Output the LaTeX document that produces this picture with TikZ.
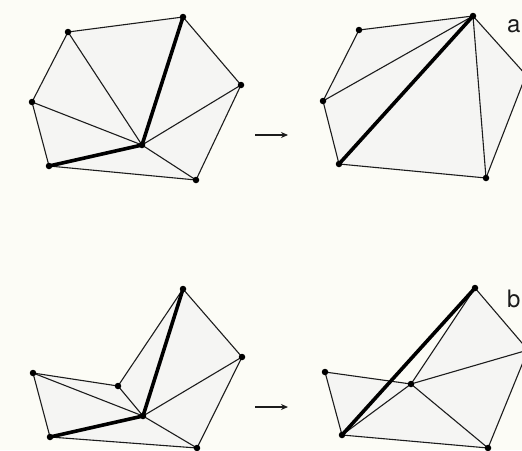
\documentclass[tikz,border=0pt]{standalone}
\usepackage{fontspec}
\setmainfont{TeX Gyre Heros}
\usetikzlibrary{arrows.meta}
\definecolor{bgc}{RGB}{252,252,246}
\definecolor{fillc}{RGB}{245,245,243}
\definecolor{inkc}{RGB}{28,28,28}
\begin{document}
\begin{tikzpicture}[x=1pt,y=-1pt,
  edge/.style={draw=inkc,line width=1.1pt},
  thickedge/.style={draw=black,line width=3.6pt,line cap=round},
  dot/.style={circle,fill=black,inner sep=0pt,minimum size=6.5pt},
  poly/.style={fill=fillc},
  flip/.style={draw=inkc,line width=1.3pt,-{Stealth[length=7pt,width=6pt]}},
  lab/.style={inner sep=0pt,anchor=base west,font=\fontsize{24}{24}\selectfont,text=inkc}]
\useasboundingbox (0,0) rectangle (522,450);
\clip (0,0) rectangle (522,450);
\fill[bgc] (0,0) rectangle (522,450);
% ---------- top left ----------
\coordinate (A) at (68,32);
\coordinate (B) at (183,17);
\coordinate (C) at (241,85);
\coordinate (D) at (32,102);
\coordinate (E) at (142,145);
\coordinate (F) at (49,166);
\coordinate (G) at (196,180);
\fill[poly] (A)--(B)--(C)--(G)--(F)--(D)--cycle;
\draw[edge] (A)--(B)--(C)--(G)--(F)--(D)--cycle;
\draw[edge] (A)--(E) (C)--(E) (D)--(E) (G)--(E);
\draw[thickedge] (B)--(E)--(F);
\foreach \p in {A,B,C,D,E,F,G} \node[dot] (dot1\p) at (\p) {};
% ---------- top right ----------
\coordinate (A2) at (359,30);
\coordinate (B2) at (473,16);
\coordinate (C2) at (526,75);
\coordinate (D2) at (323,101);
\coordinate (F2) at (339,164);
\coordinate (G2) at (486,178);
\fill[poly] (A2)--(B2)--(C2)--(G2)--(F2)--(D2)--cycle;
\draw[edge] (A2)--(B2)--(C2)--(G2)--(F2)--(D2)--cycle;
\draw[edge] (D2)--(B2) (G2)--(B2);
\draw[thickedge] (F2)--(B2);
\foreach \p in {A2,B2,C2,D2,F2,G2} \node[dot] (dot2\p) at (\p) {};
\node[lab] (la) at (507,32) {a};
% top arrow
\coordinate (ta1) at (255,135);
\coordinate (ta2) at (288,135);
\draw[flip] (ta1)--(ta2);
% ---------- bottom left ----------
\coordinate (P1) at (183,289);
\coordinate (P2) at (242,357);
\coordinate (P3) at (33,373);
\coordinate (P4) at (118,386);
\coordinate (PE) at (143,416);
\coordinate (PF) at (50,437);
\coordinate (PG) at (197,448);
\fill[poly] (P1)--(P2)--(PG)--(PF)--(P3)--(P4)--cycle;
\draw[edge] (P1)--(P2)--(PG)--(PF)--(P3)--(P4)--cycle;
\draw[edge] (P2)--(PE) (PG)--(PE) (P3)--(PE) (P4)--(PE);
\draw[thickedge] (P1)--(PE)--(PF);
\foreach \p in {P1,P2,P3,P4,PE,PF,PG} \node[dot] (dot3\p) at (\p) {};
% ---------- bottom right ----------
\coordinate (Q1) at (475,288);
\coordinate (Q2) at (528,350);
\coordinate (Q3) at (325,372);
\coordinate (Q4) at (411,384);
\coordinate (QF) at (342,435);
\coordinate (QG) at (488,448);
\fill[poly] (Q1)--(Q2)--(QG)--(QF)--(Q3)--(Q4)--cycle;
\draw[edge] (Q1)--(Q2)--(QG)--(QF)--(Q3)--(Q4)--cycle;
\draw[edge] (Q4)--(QF) (Q4)--(QG) (Q4)--(Q2);
\draw[thickedge] (QF)--(Q1);
\foreach \p in {Q1,Q2,Q3,Q4,QF,QG} \node[dot] (dot4\p) at (\p) {};
\node[lab] (lb) at (507,307) {b};
% bottom arrow
\coordinate (ba1) at (255,407);
\coordinate (ba2) at (288,407);
\draw[flip] (ba1)--(ba2);
\end{tikzpicture}
\end{document}
